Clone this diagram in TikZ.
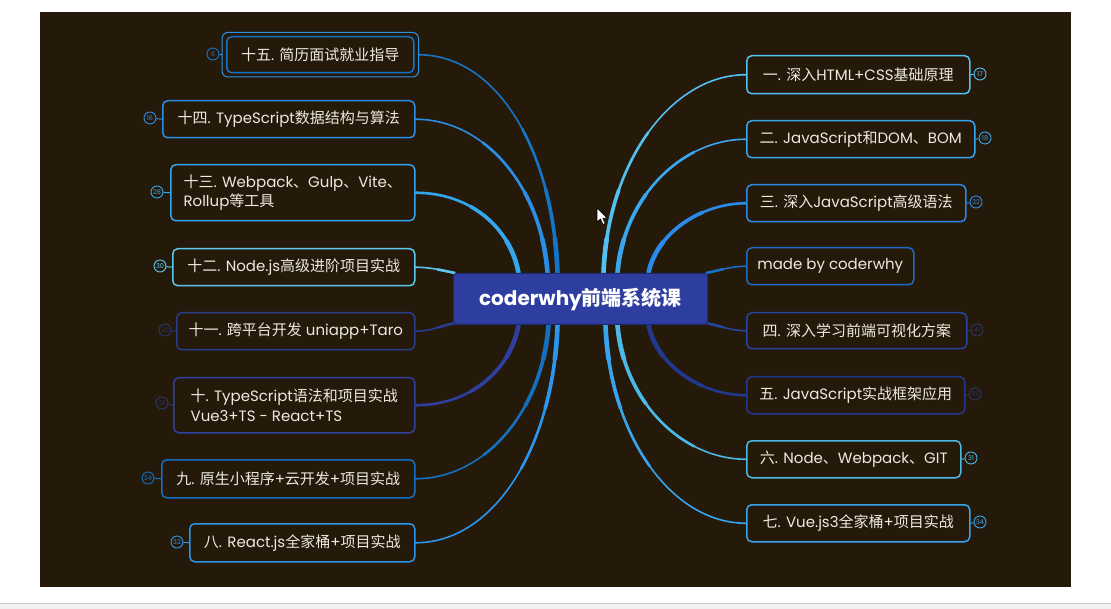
\documentclass[tikz,border=0pt]{standalone}
\usepackage{fontspec}
\setmainfont{Poppins}
\newfontfamily\cjk{Noto Sans CJK SC}
\newcommand\zhc[1]{{\cjk #1}}
\usetikzlibrary{calc}
\pgfdeclarelayer{bgl}\pgfdeclarelayer{edges}
\pgfsetlayers{bgl,edges,main}
\definecolor{bgc}{HTML}{251A0A}
\definecolor{txt}{HTML}{EEEAE0}
\definecolor{cent}{HTML}{2E3EA0}
\definecolor{centd}{HTML}{1E2A70}
\definecolor{c15}{HTML}{1674C8}
\definecolor{c15b}{HTML}{2C92E2}
\definecolor{c14}{HTML}{2A8EE6}
\definecolor{c13}{HTML}{33A6EE}
\definecolor{c12}{HTML}{5CC8EE}
\definecolor{c11}{HTML}{2A3C90}
\definecolor{c10}{HTML}{2E3F9E}
\definecolor{c9}{HTML}{1570C0}
\definecolor{c8}{HTML}{2C95EE}
\definecolor{r1}{HTML}{52C0F0}
\definecolor{r2}{HTML}{3AA6EE}
\definecolor{r3}{HTML}{2A8AE8}
\definecolor{r4}{HTML}{1B6CC4}
\definecolor{r5}{HTML}{24469E}
\definecolor{r6}{HTML}{22388E}
\definecolor{r7}{HTML}{4CB8E6}
\definecolor{r8}{HTML}{38A4EC}
\definecolor{dim}{HTML}{2A3670}
\tikzset{
  box/.style={draw=#1, line width=1.5pt, rounded corners=5pt, fill=bgc, text=txt,
    font=\fontsize{15}{19.5}\selectfont, inner sep=0pt, anchor=north west},
  conn/.style={draw=#1, line width=1.6pt, line cap=round,
    preaction={draw=#1, line cap=butt, line width=2.6pt, dash pattern=on 150pt off 2000pt},
    preaction={draw=#1, line cap=butt, line width=3.6pt, dash pattern=on 85pt off 2000pt},
    preaction={draw=#1, line cap=butt, line width=4.6pt, dash pattern=on 35pt off 2000pt}},
  sconn/.style={draw=#1, line width=1.6pt, line cap=round,
    preaction={draw=#1, line cap=butt, line width=2.6pt, dash pattern=on 18pt off 2000pt}},
  badge/.style={circle, draw=#1, line width=0.9pt, inner sep=0pt, minimum size=12pt,
    text=#1, font=\fontsize{6.5}{6.5}\selectfont, fill=bgc},
  blink/.style={draw=#1, line width=1pt}
}
\begin{document}
\begin{tikzpicture}[x=1pt,y=-1pt]
\useasboundingbox (0,0) rectangle (1111,609);
\begin{pgfonlayer}{bgl}
\fill[white] (0,0) rectangle (1111,609);
\fill[bgc] (40,12) rectangle (1071,587);
\fill[black!6] (0,603) rectangle (1111,609);
\draw[black!20, line width=0.8pt] (0,603.5) -- (1111,603.5);
\end{pgfonlayer}

% central node
\node[fill=cent, draw=centd, line width=1pt, rounded corners=3pt, minimum width=254pt, minimum height=51pt,
  inner sep=0pt, anchor=north west, text=white, font=\fontsize{20}{24}\selectfont\bfseries] (c) at (453,273) {coderwhy\zhc{前端系统课}};

% left nodes
\node[box=c15, minimum width=187pt, minimum height=36pt] (L15) at (226,36) {\zhc{十五}. \zhc{简历面试就业指导}};
\draw[c15b, line width=1pt, rounded corners=6pt] ($(L15.north west)+(-4,-3.5)$) rectangle ($(L15.south east)+(4,3.5)$);
\node[box=c14, minimum width=252pt, minimum height=37pt] (L14) at (162,100) {\zhc{十四}. TypeScript\zhc{数据结构与算法}};
\node[box=c13, minimum width=244pt, minimum height=56pt, align=left] (L13) at (170,164) {\zhc{十三}. Webpack\zhc{、}Gulp\zhc{、}Vite\zhc{、}\\Rollup\zhc{等工具}};
\node[box=c12, minimum width=242pt, minimum height=37pt] (L12) at (172,248) {\zhc{十二}. Node.js\zhc{高级进阶项目实战}};
\node[box=c11, minimum width=238pt, minimum height=37pt] (L11) at (176,312) {\zhc{十一}. \zhc{跨平台开发} uniapp+Taro};
\node[box=c10, minimum width=241pt, minimum height=55pt, align=left] (L10) at (173,377) {\zhc{十}. TypeScript\zhc{语法和项目实战}\\Vue3+TS - React+TS};
\node[box=c9, minimum width=253pt, minimum height=38pt] (L9) at (161,459) {\zhc{九}. \zhc{原生小程序}+\zhc{云开发}+\zhc{项目实战}};
\node[box=c8, minimum width=225pt, minimum height=38pt] (L8) at (189,523) {\zhc{八}. React.js\zhc{全家桶}+\zhc{项目实战}};

% right nodes
\node[box=r1, minimum width=223pt, minimum height=38pt] (R1) at (746,55) {\zhc{一}. \zhc{深入}HTML+CSS\zhc{基础原理}};
\node[box=r2, minimum width=228pt, minimum height=37pt] (R2) at (746,120) {\zhc{二}. JavaScript\zhc{和}DOM\zhc{、}BOM};
\node[box=r3, minimum width=219pt, minimum height=37pt] (R3) at (746,184) {\zhc{三}. \zhc{深入}JavaScript\zhc{高级语法}};
\node[box=r4, minimum width=167pt, minimum height=37pt] (R4) at (746,247) {made by coderwhy};
\node[box=r5, minimum width=220pt, minimum height=36pt] (R5) at (746,312) {\zhc{四}. \zhc{深入学习前端可视化方案}};
\node[box=r6, minimum width=218pt, minimum height=37pt] (R6) at (746,376) {\zhc{五}. JavaScript\zhc{实战框架应用}};
\node[box=r7, minimum width=214pt, minimum height=37pt] (R7) at (746,440) {\zhc{六}. Node\zhc{、}Webpack\zhc{、}GIT};
\node[box=r8, minimum width=223pt, minimum height=37pt] (R8) at (746,504) {\zhc{七}. Vue.js3\zhc{全家桶}+\zhc{项目实战}};

% badges
\node[badge=c15] (b15) at (213,54) {8};
\node[badge=c14] (b14) at (150,118) {16};
\node[badge=c13] (b13) at (157,192) {28};
\node[badge=c12] (b12) at (160,266) {30};
\node[badge=dim] (b11) at (165,330) {20};
\node[badge=dim] (b10) at (162,403) {31};
\node[badge=c9] (b9) at (148,478) {24};
\node[badge=c8] (b8) at (177,542) {32};
\node[badge=r1] (d1) at (980,74) {17};
\node[badge=r2] (d2) at (985,138) {18};
\node[badge=r3] (d3) at (976,202) {22};
\node[badge=dim] (d5) at (977,330) {41};
\node[badge=dim] (d6) at (975,394) {37};
\node[badge=r7] (d7) at (971,458) {31};
\node[badge=r8] (d8) at (980,522) {34};

\draw[blink=c15b] (b15) -- ($(L15.west)+(-4,0)$);
\draw[blink=c14] (b14) -- (L14.west);
\draw[blink=c13] (b13) -- (L13.west);
\draw[blink=c12] (b12) -- (L12.west);
\draw[blink=dim] (b11) -- (L11.west);
\draw[blink=dim] (b10) -- (L10.west);
\draw[blink=c9] (b9) -- (L9.west);
\draw[blink=c8] (b8) -- (L8.west);
\draw[blink=r1] (d1) -- (R1.east);
\draw[blink=r2] (d2) -- (R2.east);
\draw[blink=r3] (d3) -- (R3.east);
\draw[blink=dim] (d5) -- (R5.east);
\draw[blink=dim] (d6) -- (R6.east);
\draw[blink=r7] (d7) -- (R7.east);
\draw[blink=r8] (d8) -- (R8.east);

% connectors
\begin{pgfonlayer}{edges}
\draw[conn=c15] ($(c.north)+(-23,0)$) .. controls +(-4,-120) and +(80,0) .. ($(L15.east)+(4,0)$);
\draw[conn=c14] ($(c.north)+(-33,0)$) .. controls +(-6,-85) and +(70,0) .. (L14.east);
\draw[conn=c13] ($(c.north)+(-62,0)$) .. controls +(-8,-45) and +(55,0) .. (L13.east);
\draw[sconn=c12] ($(c.north west)+(2,0)$) .. controls +(-15,-3) and +(15,0) .. (L12.east);
\draw[sconn=c11] ($(c.south west)+(2,-2)$) .. controls +(-15,3) and +(15,0) .. (L11.east);
\draw[conn=c10] ($(c.south)+(-62,0)$) .. controls +(-8,45) and +(55,0) .. (L10.east);
\draw[conn=c9] ($(c.south)+(-32,0)$) .. controls +(-6,85) and +(70,0) .. (L9.east);
\draw[conn=c8] ($(c.south)+(-23,0)$) .. controls +(-4,120) and +(80,0) .. (L8.east);
\draw[conn=r1] ($(c.north)+(23,0)$) .. controls +(4,-110) and +(-75,0) .. (R1.west);
\draw[conn=r2] ($(c.north)+(37,0)$) .. controls +(6,-75) and +(-65,0) .. (R2.west);
\draw[conn=r3] ($(c.north)+(68,0)$) .. controls +(8,-40) and +(-45,0) .. (R3.west);
\draw[sconn=r4] ($(c.north east)+(-2,0)$) .. controls +(15,-3) and +(-15,0) .. (R4.west);
\draw[sconn=r5] ($(c.south east)+(-2,-2)$) .. controls +(15,3) and +(-15,0) .. (R5.west);
\draw[conn=r6] ($(c.south)+(68,0)$) .. controls +(8,40) and +(-45,0) .. (R6.west);
\draw[conn=r7] ($(c.south)+(37,0)$) .. controls +(6,75) and +(-65,0) .. (R7.west);
\draw[conn=r8] ($(c.south)+(25,0)$) .. controls +(4,110) and +(-75,0) .. (R8.west);
\end{pgfonlayer}

% mouse cursor
\filldraw[fill=white, draw=black, line width=0.6pt, line join=round]
  (597,208) -- (597,222) -- (600.5,219) -- (603,224.5) -- (605.2,223.5) -- (602.8,218.3) -- (607.2,218.3) -- cycle;
\end{tikzpicture}
\end{document}
